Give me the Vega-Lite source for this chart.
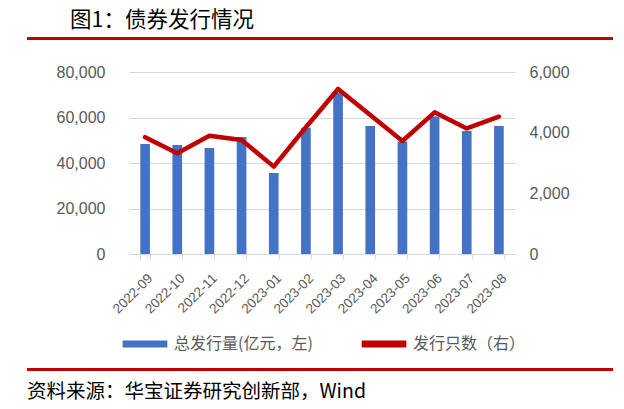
{
  "$schema": "https://vega.github.io/schema/vega-lite/v6.json",
  "background": "white",
  "padding": {"left": 27, "top": 9, "right": 10, "bottom": 10},
  "config": {"view": {"stroke": null}, "font": "Liberation Sans", "legend": {"layout": {"bottom": {"anchor": "middle"}}}},
  "datasets": {
    "bonds": [
      {"month": "2022-09", "amount": 48400, "count": 3850},
      {"month": "2022-10", "amount": 47900, "count": 3320},
      {"month": "2022-11", "amount": 46600, "count": 3900},
      {"month": "2022-12", "amount": 51400, "count": 3760},
      {"month": "2023-01", "amount": 35600, "count": 2880},
      {"month": "2023-02", "amount": 55500, "count": 4180},
      {"month": "2023-03", "amount": 70800, "count": 5440},
      {"month": "2023-04", "amount": 56300, "count": 4580},
      {"month": "2023-05", "amount": 49500, "count": 3725},
      {"month": "2023-06", "amount": 60400, "count": 4670},
      {"month": "2023-07", "amount": 54100, "count": 4140},
      {"month": "2023-08", "amount": 56300, "count": 4530}
    ]
  },
  "spacing": 10,
  "resolve": {"scale": {"color": "independent"}, "legend": {"color": "independent"}},
  "vconcat": [
    {
      "spacing": 24,
      "resolve": {"scale": {"color": "independent"}, "legend": {"color": "independent"}},
      "vconcat": [
        {
          "width": 586,
          "height": 3,
          "data": {"values": [{}]},
          "mark": {"type": "rect", "color": "#C00000"},
          "encoding": {},
          "title": {"text": "图1：债券发行情况", "anchor": "start", "font": "Noto Sans CJK SC", "fontSize": 21.5, "fontWeight": "normal", "color": "#000000", "offset": 6, "dx": 43}
        },
        {
          "spacing": 0,
          "resolve": {"scale": {"color": "independent"}, "legend": {"color": "independent"}},
          "hconcat": [
            {
              "width": 29,
              "height": 1,
              "data": {"values": [{}]},
              "mark": {"type": "rect", "opacity": 0},
              "encoding": {}
            },
            {
              "width": 386,
              "height": 182,
              "data": {"name": "bonds"},
              "encoding": {
                "x": {
                  "field": "month", "type": "ordinal", "sort": null,
                  "scale": {"paddingInner": 0.7, "paddingOuter": 0.35},
                  "axis": {"title": null, "labelAngle": -45, "labelFontSize": 13.5, "labelColor": "#595959", "tickBand": "extent", "domainColor": "#D9D9D9", "tickColor": "#D9D9D9", "tickSize": 5, "labelPadding": 12}
                }
              },
              "layer": [
                {
                  "mark": {"type": "bar"},
                  "encoding": {
                    "y": {"field": "amount", "type": "quantitative", "scale": {"domain": [0, 80000]},
                      "axis": {"title": null, "values": [0, 20000, 40000, 60000, 80000], "format": ",.0f", "domain": false, "ticks": false, "grid": true, "gridColor": "#D9D9D9", "labelFontSize": 16, "labelColor": "#595959", "labelPadding": 24}},
                    "color": {"datum": "总发行量(亿元，左)", "type": "nominal",
                      "scale": {"domain": ["总发行量(亿元，左)", "发行只数（右）"], "range": ["#4472C4", "#C00000"]},
                      "legend": {"orient": "bottom", "direction": "horizontal", "title": null, "symbolType": "stroke", "symbolStrokeWidth": 7, "symbolSize": 2000, "labelFont": "Noto Sans CJK SC", "labelFontSize": 16, "labelColor": "#595959", "columnPadding": 34, "labelOffset": 3, "offset": 2}}
                  }
                },
                {
                  "mark": {"type": "line", "strokeWidth": 4.5, "strokeJoin": "round", "strokeCap": "round"},
                  "encoding": {
                    "y": {"field": "count", "type": "quantitative", "scale": {"domain": [0, 6000]},
                      "axis": {"orient": "right", "title": null, "values": [0, 2000, 4000, 6000], "format": ",.0f", "domain": false, "ticks": false, "grid": false, "labelFontSize": 16, "labelColor": "#595959", "labelPadding": 14}},
                    "color": {"datum": "发行只数（右）", "type": "nominal"}
                  }
                }
              ],
              "resolve": {"scale": {"y": "independent"}}
            }
          ]
        }
      ]
    },
    {
      "width": 586,
      "height": 3,
      "data": {"values": [{}]},
      "mark": {"type": "rect", "color": "#C00000"},
      "encoding": {},
      "title": {"text": "资料来源：华宝证券研究创新部，Wind", "orient": "bottom", "anchor": "start", "font": "Noto Sans CJK SC", "fontSize": 19.5, "fontWeight": "normal", "color": "#000000", "offset": 12}
    }
  ]
}
